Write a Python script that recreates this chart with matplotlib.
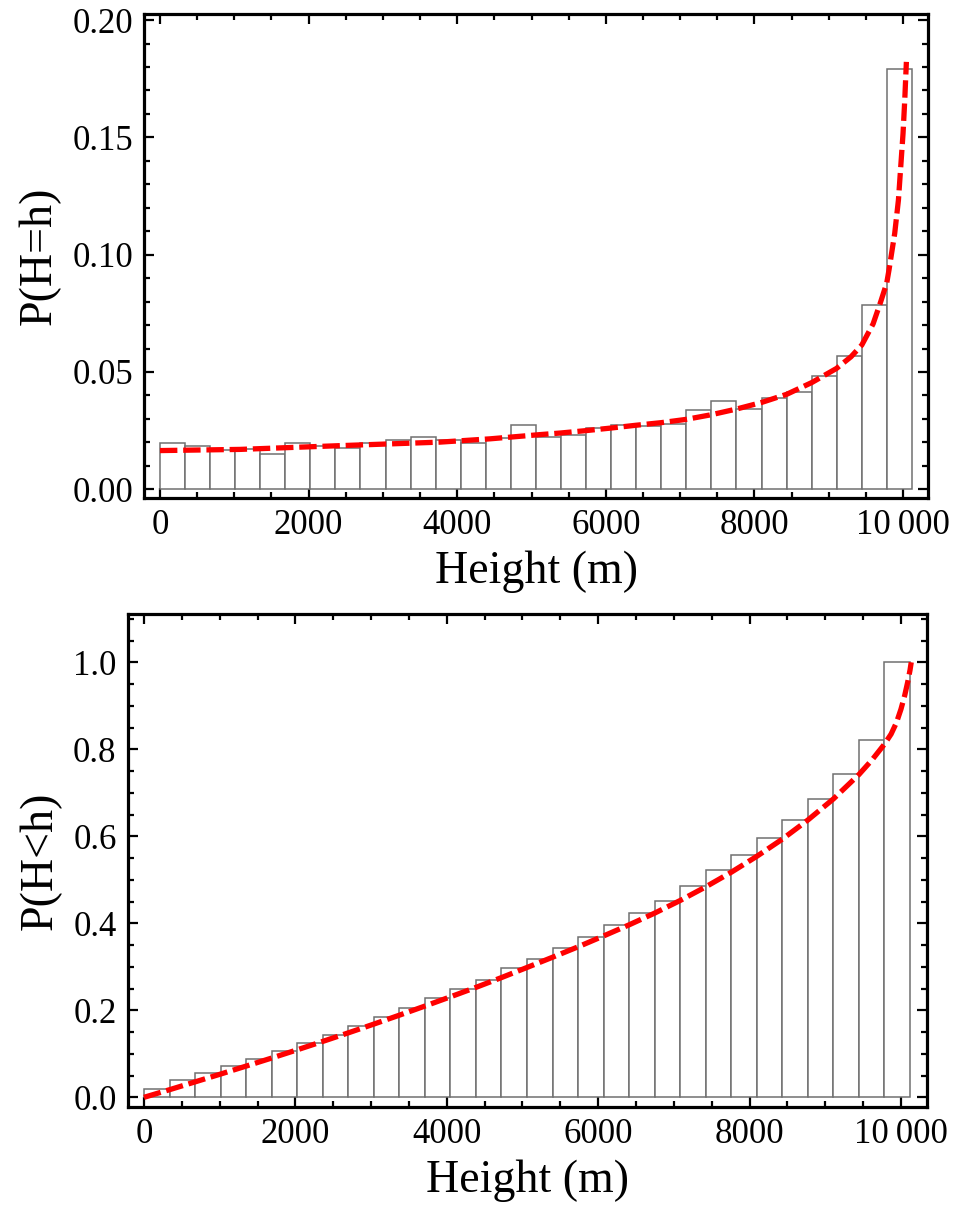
import numpy as np
import matplotlib
matplotlib.use("Agg")
import matplotlib.pyplot as plt
from matplotlib.ticker import MultipleLocator, FuncFormatter

plt.rcParams['font.family'] = ['Liberation Serif', 'DejaVu Serif']

# histogram bins (m)
h_max = 10120
n_bins = 30
bin_edges = np.linspace(0, h_max, n_bins + 1)

# P(H=h) per bin
p_density = [0.0197, 0.0186, 0.0166, 0.0171, 0.0151, 0.0197, 0.0185, 0.0178,
             0.0197, 0.0210, 0.0224, 0.0211, 0.0198, 0.0219, 0.0276, 0.0224,
             0.0230, 0.0260, 0.0274, 0.0270, 0.0277, 0.0339, 0.0378, 0.0341,
             0.0388, 0.0416, 0.0484, 0.0567, 0.0784, 0.1790]

# P(H<h) per bin
p_cumul = [0.0198, 0.0390, 0.0559, 0.0727, 0.0874, 0.1072, 0.1255, 0.1440,
           0.1632, 0.1846, 0.2060, 0.2276, 0.2483, 0.2690, 0.2972, 0.3190,
           0.3425, 0.3685, 0.3960, 0.4230, 0.4506, 0.4850, 0.5225, 0.5563,
           0.5954, 0.6375, 0.6857, 0.7425, 0.8207, 1.0000]

# fitted curves (dashed red)
fit_pdf_h = [0, 1076, 2422, 3767, 4440, 5112, 5395, 5731, 6068, 6408, 6745,
             7081, 7422, 7758, 8095, 8435, 8772, 9104, 9300, 9445, 9597,
             9700, 9781, 9811, 9888, 9938, 9969, 10000, 10023, 10045]
fit_pdf_p = [0.0165, 0.0170, 0.0186, 0.0201, 0.0215, 0.0233, 0.0240, 0.0250,
             0.0261, 0.0273, 0.0284, 0.0298, 0.0318, 0.0342, 0.0370, 0.0405,
             0.0455, 0.0515, 0.0565, 0.0615, 0.0705, 0.0800, 0.0880, 0.0935,
             0.1091, 0.1233, 0.1375, 0.1517, 0.1659, 0.1822]

fit_cdf_h = [0, 337, 675, 1012, 1349, 1687, 2024, 2361, 2699, 3036, 3373,
             3710, 4048, 4385, 4722, 5060, 5397, 5735, 6072, 6409, 6747,
             7084, 7421, 7759, 8096, 8433, 8771, 9108, 9445, 9620, 9783,
             9870, 9940, 10000, 10050, 10090, 10120, 10136]
fit_cdf_p = [0.0, 0.0175, 0.0355, 0.0535, 0.0718, 0.0903, 0.1092, 0.1285,
             0.1482, 0.1683, 0.1888, 0.2097, 0.2310, 0.2527, 0.2752, 0.2985,
             0.3220, 0.3460, 0.3710, 0.3965, 0.4235, 0.4525, 0.4838, 0.5175,
             0.5540, 0.5935, 0.6375, 0.6860, 0.7420, 0.7760, 0.8120, 0.8350,
             0.8610, 0.8920, 0.9240, 0.9550, 0.9820, 1.0]

fig = plt.figure(figsize=(9.58, 12.19), dpi=100)
ax1 = fig.add_axes([0.1503, 0.5915, 0.8187, 0.397])
ax2 = fig.add_axes([0.1333, 0.0916, 0.834, 0.4047])


def draw_panel(ax, vals, fx, fy, ylabel, ymaj, ymin, ylim, fmt):
    widths = np.diff(bin_edges)
    ax.bar(bin_edges[:-1], vals, width=widths, align='edge', color='white',
           edgecolor='#707070', linewidth=1.1, zorder=2)
    ax.plot(fx, fy, color='red', linewidth=3.8, dashes=(3.3, 1.1),
            dash_capstyle='butt', solid_joinstyle='round', zorder=3)
    ax.set_xlim(-215, 10340)
    ax.set_ylim(*ylim)
    ax.xaxis.set_major_locator(MultipleLocator(2000))
    ax.xaxis.set_minor_locator(MultipleLocator(500))
    ax.yaxis.set_major_locator(MultipleLocator(ymaj))
    ax.yaxis.set_minor_locator(MultipleLocator(ymin))
    ax.xaxis.set_major_formatter(FuncFormatter(
        lambda v, p: '10\u2009000' if v >= 10000 else '%d' % v))
    ax.yaxis.set_major_formatter(FuncFormatter(lambda v, p: fmt % v))
    ax.tick_params(which='both', direction='in', top=True, right=True,
                   width=1.6, labelsize=25, pad=8)
    ax.tick_params(which='major', length=7)
    ax.tick_params(which='minor', length=4)
    for s in ax.spines.values():
        s.set_linewidth(2.3)
    ax.set_xlabel('Height (m)', fontsize=33, labelpad=6)
    ax.set_ylabel(ylabel, fontsize=33, labelpad=8)


draw_panel(ax1, p_density, fit_pdf_h, fit_pdf_p, 'P(H=h)', 0.05, 0.01,
           (-0.0037, 0.2026), '%.2f')
draw_panel(ax2, p_cumul, fit_cdf_h, fit_cdf_p, 'P(H<h)', 0.2, 0.05,
           (-0.023, 1.111), '%.1f')

fig.savefig('out.png', dpi=100)
